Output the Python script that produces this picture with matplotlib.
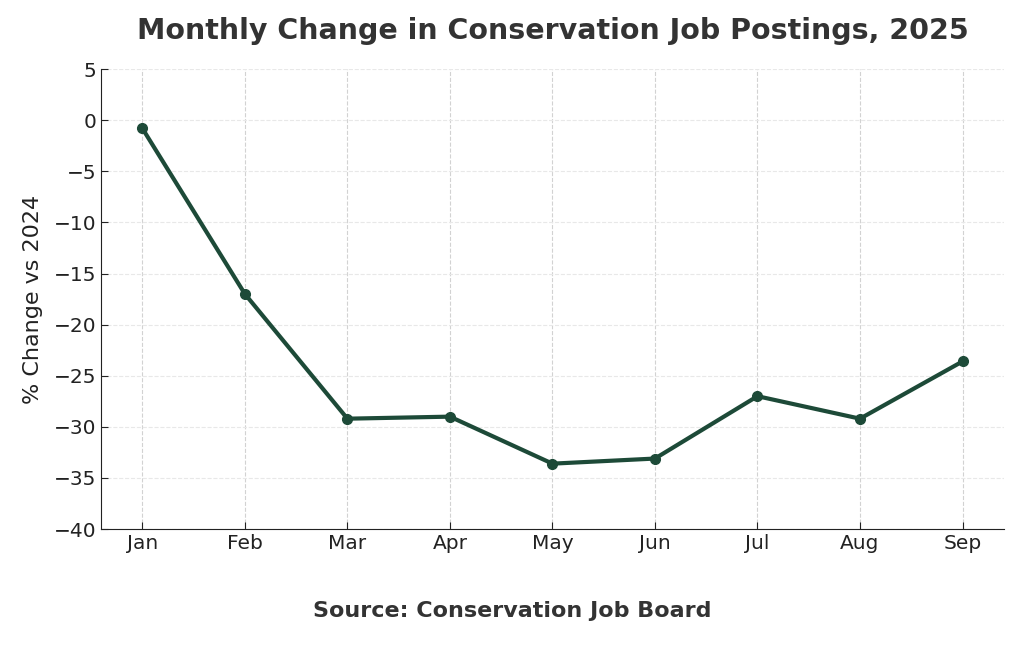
import matplotlib.pyplot as plt

months = ['Jan', 'Feb', 'Mar', 'Apr', 'May', 'Jun', 'Jul', 'Aug', 'Sep']
pct_change = [-0.8, -17.0, -29.2, -29.0, -33.6, -33.1, -27.0, -29.2, -23.6]

fig, ax = plt.subplots(figsize=(10.24, 6.46), dpi=100)

ax.plot(range(len(months)), pct_change, color='#1d4a38', linewidth=3,
        marker='o', markersize=7)

ax.set_xticks(range(len(months)))
ax.set_xticklabels(months)
ax.set_ylim(-40, 5)
ax.set_yticks(range(-40, 6, 5))
ax.set_xlim(-0.4, 8.4)

# vertical grid a bit darker than the horizontal one
ax.grid(True, axis='x', linestyle='--', color='#d2d2d2', linewidth=0.8)
ax.grid(True, axis='y', linestyle='--', color='#e8e8e8', linewidth=0.8)
ax.spines['top'].set_visible(False)
ax.spines['right'].set_visible(False)
ax.spines['left'].set_color('#222222')
ax.spines['bottom'].set_color('#222222')
ax.tick_params(direction='in', labelsize=14.5, colors='#222222', length=5)

ax.set_ylabel('% Change vs 2024', fontsize=16, color='#222222', labelpad=8)
ax.set_title('Monthly Change in Conservation Job Postings, 2025',
             fontsize=20.5, fontweight='bold', color='#333333', pad=22)
fig.text(0.5, 0.045, 'Source: Conservation Job Board', ha='center',
         fontsize=16, fontweight='bold', color='#333333')

fig.subplots_adjust(left=0.099, right=0.98, top=0.893, bottom=0.181)
fig.savefig('out.png', dpi=100)
